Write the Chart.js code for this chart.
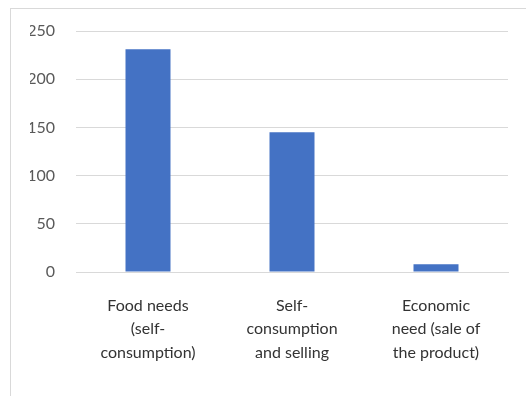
<!DOCTYPE html>
<html>
<head>
<meta charset="utf-8">
<script src="https://cdn.jsdelivr.net/npm/chart.js@4/dist/chart.umd.min.js"></script>
<style>
  html, body { margin: 0; padding: 0; background: #fff; }
  #frame {
    position: absolute; left: 10px; top: 8px; width: 530px; height: 400px;
    border: 1px solid #d9d9d9; box-sizing: border-box;
  }
  #wrap { position: absolute; left: 0; top: 0; width: 526px; height: 396px; }
</style>
</head>
<body>
<div id="frame"></div>
<div id="wrap"><canvas id="chart"></canvas></div>
<script>
// chart data
const categories = [
    ['Food needs', '(self-', 'consumption)'],
    ['Self-', 'consumption', 'and selling'],
    ['Economic', 'need (sale of', 'the product)']
];
const values = [231, 145, 8];
const yTicks = [0, 50, 100, 150, 200, 250];

document.addEventListener('DOMContentLoaded', () => {
    const ctx = document.getElementById('chart').getContext('2d');

    new Chart(ctx, {
        type: 'bar',
        data: {
            labels: categories,
            datasets: [{
                data: values,
                backgroundColor: '#4472c4',
                borderWidth: 0,
                categoryPercentage: 1,
                barPercentage: 0.3125
            }]
        },
        options: {
            responsive: true,
            maintainAspectRatio: false,
            animation: false,
            layout: { padding: { left: 30, right: 18, top: 31, bottom: 0 } },
            scales: {
                y: {
                    min: 0,
                    max: 250,
                    afterBuildTicks: (scale) => {
                        scale.ticks = yTicks.map(v => ({ value: v }));
                    },
                    afterFit: (scale) => { scale.width = 46; },
                    border: { display: false },
                    grid: { color: '#d9d9d9', drawTicks: false },
                    ticks: {
                        color: '#595959',
                        padding: 21,
                        font: { family: 'Lato', size: 16 }
                    }
                },
                x: {
                    afterFit: (scale) => { scale.height = 124; },
                    border: { color: '#d9d9d9' },
                    grid: { display: false, drawTicks: false },
                    ticks: {
                        color: '#333333',
                        padding: 22,
                        maxRotation: 0,
                        font: { family: 'Lato', size: 16, lineHeight: 1.47 }
                    }
                }
            },
            plugins: {
                legend: { display: false },
                tooltip: { enabled: false }
            }
        }
    });
});
</script>
</body>
</html>
